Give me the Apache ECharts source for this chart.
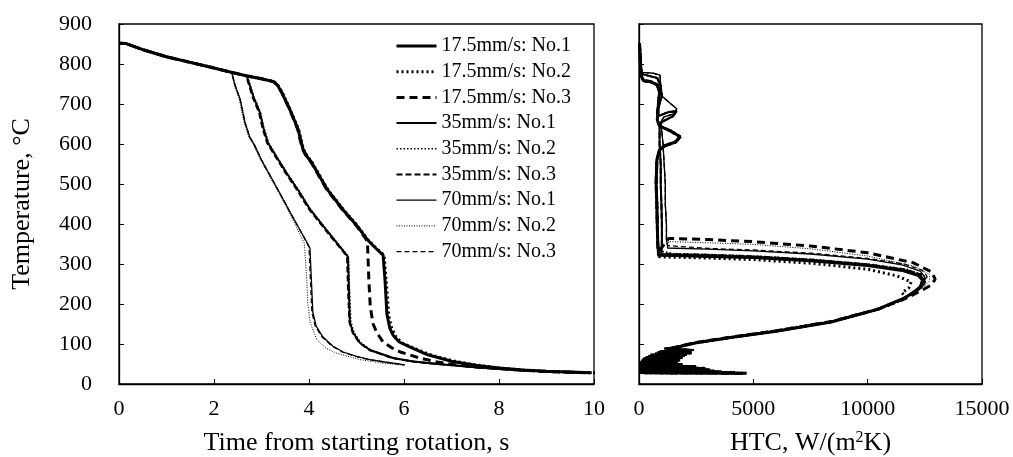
<!DOCTYPE html>
<html>
<head>
<meta charset="utf-8">
<script src="https://cdn.jsdelivr.net/npm/echarts@6/dist/echarts.min.js"></script>
<style>
  html, body { margin: 0; padding: 0; background: #fff; overflow: hidden; }
  #chart { width: 1013px; height: 457px; }
</style>
</head>
<body>
<div id="chart"></div>
<script>
// ---- data: cooling curves, [time s, temperature C] ----
const headCurve = [[0, 852], [0.15, 851], [0.5, 836], [1.0, 818], [1.5, 804], [2.0, 790], [2.37, 779]];

const t175No1 = [[2.7, 770], [3.0, 763], [3.25, 756], [3.33, 748], [3.43, 728], [3.6, 685], [3.77, 637], [3.87, 588],
  [3.95, 570], [4.05, 555], [4.38, 487], [4.72, 435], [5.0, 397], [5.22, 362], [5.4, 340], [5.56, 322], [5.6, 260],
  [5.64, 175], [5.7, 140], [5.77, 122], [5.9, 105], [6.13, 92], [6.5, 73], [7.0, 57], [7.5, 47], [8.0, 40], [8.5, 35],
  [9.0, 32], [9.5, 30], [9.95, 28]];
const t175No2 = [[2.7, 770], [3.0, 763], [3.26, 756], [3.34, 748], [3.44, 728], [3.61, 685], [3.78, 637], [3.88, 588],
  [3.96, 570], [4.06, 555], [4.39, 487], [4.73, 435], [5.01, 397], [5.23, 362], [5.41, 340], [5.58, 322], [5.63, 250],
  [5.68, 170], [5.74, 140], [5.82, 120], [5.95, 103], [6.2, 90], [6.6, 71], [7.1, 56], [7.6, 46], [8.1, 39], [8.6, 34],
  [9.1, 31], [9.6, 29], [10.05, 28]];
const t175No3 = [[2.7, 770], [3.0, 763], [3.25, 756], [3.33, 748], [3.43, 728], [3.6, 685], [3.76, 637], [3.86, 588],
  [3.94, 570], [4.04, 555], [4.37, 487], [4.71, 435], [4.99, 397], [5.2, 362], [5.23, 356], [5.26, 260], [5.29, 193],
  [5.35, 150], [5.43, 128], [5.56, 105], [5.75, 90], [5.92, 80], [6.3, 66], [6.7, 55], [7.2, 46], [8.0, 38], [9.0, 31],
  [9.9, 28]];

const t35No1 = [[2.69, 770], [2.83, 718], [2.97, 678], [3.04, 640], [3.14, 602], [3.53, 527], [3.78, 483], [4.02, 437],
  [4.4, 380], [4.76, 327], [4.82, 318], [4.84, 240], [4.86, 155], [4.93, 128], [5.07, 103], [5.28, 85], [5.77, 65],
  [6.2, 56], [6.7, 50], [7.5, 42], [8.5, 34], [9.5, 29], [9.9, 28]];
const t35No2 = [[2.7, 770], [2.84, 718], [2.98, 678], [3.05, 640], [3.15, 602], [3.54, 527], [3.79, 483], [4.03, 437],
  [4.41, 380], [4.77, 327], [4.83, 318], [4.85, 240], [4.88, 155], [4.95, 128], [5.09, 103], [5.3, 85], [5.8, 64],
  [6.25, 55], [6.8, 49], [7.6, 41], [8.6, 33], [9.6, 29], [9.95, 28]];
const t35No3 = [[2.68, 770], [2.81, 718], [2.95, 678], [3.02, 640], [3.12, 602], [3.51, 527], [3.76, 483], [4.0, 437],
  [4.38, 380], [4.74, 328], [4.8, 320], [4.82, 240], [4.85, 155], [4.92, 128], [5.06, 103], [5.27, 85], [5.75, 65],
  [6.2, 56], [6.7, 50], [7.5, 42], [8.5, 34], [9.5, 29], [9.85, 28]];

const t70No1 = [[2.45, 745], [2.55, 712], [2.65, 655], [2.75, 618], [2.85, 598], [3.0, 560], [3.35, 485], [3.6, 430],
  [3.92, 362], [4.02, 340], [4.05, 260], [4.08, 180], [4.15, 145], [4.29, 118], [4.5, 95], [4.72, 80], [5.0, 69],
  [5.28, 61], [5.6, 55], [6.02, 48]];
const t70No2 = [[2.43, 745], [2.53, 712], [2.63, 655], [2.73, 618], [2.83, 598], [2.98, 560], [3.33, 485], [3.58, 430],
  [3.9, 352], [3.93, 347], [3.95, 270], [3.97, 210], [4.02, 155], [4.16, 112], [4.35, 90], [4.58, 77], [5.07, 61],
  [5.5, 53], [5.98, 47]];
const t70No3 = [[2.45, 745], [2.55, 712], [2.65, 655], [2.75, 618], [2.85, 598], [3.0, 560], [3.35, 485], [3.6, 430],
  [3.91, 363], [4.0, 342], [4.03, 260], [4.06, 180], [4.13, 145], [4.27, 118], [4.48, 95], [4.7, 80], [4.98, 69],
  [5.26, 61], [5.58, 55], [6.0, 48]];

// ---- data: HTC curves, [HTC W/(m2K), temperature C] ----
const topHtc70 = [[30, 852], [60, 820], [90, 790], [120, 779], [600, 777], [920, 772], [950, 745], [1000, 720],
  [1400, 700], [1650, 688], [1550, 676], [1100, 668], [950, 655], [1000, 630], [1050, 600], [1100, 550], [1150, 500],
  [1150, 450], [1200, 400], [1200, 360], [1250, 346]];
const topHtc35 = [[30, 852], [60, 820], [90, 790], [110, 775], [400, 771], [800, 765], [950, 745], [1000, 720],
  [900, 700], [800, 686], [850, 670], [1300, 680], [1650, 682], [1500, 670], [1000, 655], [900, 640], [900, 600],
  [950, 550], [950, 500], [980, 450], [1000, 400], [1000, 350], [980, 332]];
const topHtc175 = [[20, 852], [50, 820], [80, 790], [100, 770], [200, 758], [500, 756], [800, 748], [900, 730],
  [850, 700], [800, 660], [900, 645], [1400, 632], [1800, 618], [1600, 605], [1100, 595], [900, 585], [780, 560],
  [750, 500], [780, 450], [800, 400], [820, 350], [850, 330]];

const h175No1 = [[850, 322], [1500, 321], [3000, 319], [5000, 316], [7500, 308], [10000, 296], [11500, 284],
  [12200, 272], [12400, 260], [12300, 242], [12000, 228], [11500, 212], [10400, 186], [8400, 155], [6000, 132],
  [4000, 116], [2500, 103], [1500, 90]];
const h175No2 = [[880, 318], [1500, 317], [3000, 315], [5000, 311], [7500, 302], [10000, 287], [11300, 270],
  [11900, 255], [11800, 240], [11500, 228], [11700, 215], [10500, 188], [8500, 157], [6100, 134], [4100, 117],
  [2600, 104], [1500, 91]];
const h175No3 = [[1300, 364], [3000, 361], [5000, 356], [7500, 345], [10000, 328], [12000, 303], [12800, 280],
  [12950, 262], [12800, 248], [12400, 235], [11700, 215], [10500, 188], [8400, 156], [6000, 133], [4000, 117],
  [2500, 104], [1500, 91]];
const h35No1 = [[980, 325], [1500, 324], [3000, 322], [5000, 318], [7500, 310], [10000, 298], [11600, 285],
  [12300, 272], [12450, 261], [12350, 244], [12050, 229], [11500, 212], [10400, 186], [8400, 155], [6000, 132],
  [4000, 116], [2500, 103], [1500, 90]];
const h35No2 = [[980, 327], [1500, 326], [3000, 324], [5000, 320], [7500, 312], [10000, 300], [11700, 287],
  [12400, 274], [12550, 262], [12450, 246], [12100, 230], [11500, 213], [10400, 187], [8400, 156], [6000, 133],
  [4000, 117], [2500, 104], [1500, 91]];
const h35No3 = [[980, 326], [1500, 325], [3000, 323], [5000, 319], [7500, 311], [10000, 299], [11650, 286],
  [12350, 273], [12500, 262], [12400, 245], [12100, 230], [11500, 212], [10400, 186], [8400, 155], [6000, 132],
  [4000, 116], [2500, 103], [1500, 90]];
const h70No1 = [[1250, 340], [3000, 337], [5000, 333], [7500, 325], [10000, 312], [11500, 298], [12300, 282],
  [12500, 268], [12400, 250], [12100, 236], [11600, 216], [10400, 187], [8400, 156], [6000, 133], [4000, 117],
  [2500, 104], [1500, 91]];
const h70No2 = [[1300, 356], [3000, 353], [5000, 349], [7500, 338], [10000, 320], [12000, 295], [12700, 274],
  [12700, 257], [12400, 240], [11800, 220], [10500, 189], [8400, 156], [6000, 133], [4000, 117], [2500, 104],
  [1500, 91]];
const h70No3 = [[1250, 342], [3000, 339], [5000, 335], [7500, 327], [10000, 314], [11600, 300], [12400, 284],
  [12600, 269], [12500, 252], [12200, 237], [11600, 216], [10400, 187], [8400, 156], [6000, 133], [4000, 117],
  [2500, 104], [1500, 91]];

const tailHtc175 = [[1300, 88], [2100, 84], [1000, 81], [2300, 78], [800, 75], [2000, 72], [500, 69], [1900, 66],
  [300, 63], [1800, 60], [150, 57], [1700, 54], [80, 51], [1900, 48], [50, 45], [2500, 43], [80, 41], [2900, 39],
  [40, 37], [3100, 35], [60, 33], [3300, 32], [100, 31], [3600, 30], [50, 29], [4200, 28], [200, 28], [4700, 27]];
const tailHtc35 = [[1100, 89], [2400, 85], [900, 82], [2200, 79], [700, 76], [2100, 73], [400, 70], [1800, 67],
  [200, 64], [1700, 61], [100, 58], [1600, 55], [40, 52], [1800, 49], [20, 46], [2300, 44], [60, 42], [2700, 40],
  [30, 38], [2900, 36], [50, 34], [3000, 32], [80, 31], [3200, 30], [20, 29], [3400, 28]];
const tailHtc70 = [[1200, 88], [2200, 84], [800, 80], [2000, 77], [500, 74], [1800, 71], [300, 68], [1700, 65],
  [150, 62], [1600, 59], [60, 56], [1500, 53], [30, 51], [1700, 49], [0, 48]];

const seriesNames = ['17.5mm/s: No.1', '17.5mm/s: No.2', '17.5mm/s: No.3',
  '35mm/s: No.1', '35mm/s: No.2', '35mm/s: No.3',
  '70mm/s: No.1', '70mm/s: No.2', '70mm/s: No.3'];

const xTimeTicks = [0, 10, 2];
const xHtcTicks = [0, 15000, 5000];
const yTempTicks = [0, 900, 100];

// ---- styling ----
const FONT = '"Liberation Serif", "Times New Roman", serif';
const lineStyles = [
  { width: 3, type: 'solid' }, { width: 3, type: [2, 3] }, { width: 3, type: [8, 5] },
  { width: 2, type: 'solid' }, { width: 1.6, type: [1.5, 2] }, { width: 2, type: [6, 3] },
  { width: 1.3, type: 'solid' }, { width: 1, type: [1, 1.5] }, { width: 1.3, type: [5, 3] },
];

const tempCurves = [t175No1, t175No2, t175No3, t35No1, t35No2, t35No3, t70No1, t70No2, t70No3]
  .map((c) => headCurve.concat(c));
const htcCurves = [
  topHtc175.concat(h175No1, tailHtc175), topHtc175.concat(h175No2, tailHtc175), topHtc175.concat(h175No3, tailHtc175),
  topHtc35.concat(h35No1, tailHtc35), topHtc35.concat(h35No2, tailHtc35), topHtc35.concat(h35No3, tailHtc35),
  topHtc70.concat(h70No1, tailHtc70), topHtc70.concat(h70No2, tailHtc70), topHtc70.concat(h70No3, tailHtc70),
];

const makeSeries = (curves, axisIdx) =>
  curves.map((data, i) => ({
    name: seriesNames[i],
    type: 'line',
    xAxisIndex: axisIdx,
    yAxisIndex: axisIdx,
    data,
    symbol: 'none',
    showSymbol: false,
    smooth: false,
    silent: true,
    lineStyle: { color: '#000', width: lineStyles[i].width, type: lineStyles[i].type },
    itemStyle: { color: '#000' },
  }));

const axisCommon = {
  axisLine: { show: true, onZero: false, lineStyle: { color: '#000', width: 1.3 } },
  axisTick: { show: true, inside: true, length: 5, lineStyle: { color: '#000', width: 1 } },
  splitLine: { show: false },
  nameTextStyle: { color: '#000', fontFamily: FONT, fontSize: 26 },
};
const labelStyle = { color: '#000', fontFamily: FONT, fontSize: 22, formatter: (v) => String(v) };

// keep the plot boxes fixed; the bottom title may run past the edge as in the original
const gridCommon = {
  top: 24, bottom: 73, show: true, borderColor: '#000', borderWidth: 1.3,
  containLabel: false, outerBoundsMode: 'none',
};

const option = {
  animation: false,
  backgroundColor: '#fff',
  grid: [
    Object.assign({ left: 119, right: 419 }, gridCommon),
    Object.assign({ left: 639, right: 31 }, gridCommon),
  ],
  legend: {
    data: seriesNames,
    orient: 'vertical',
    left: 390,
    top: 31,
    itemWidth: 40,
    itemHeight: 14,
    itemGap: 5.7,
    selectedMode: false,
    itemStyle: { opacity: 0 },
    lineStyle: { width: 'inherit' },
    textStyle: { color: '#000', fontFamily: FONT, fontSize: 20 },
  },
  xAxis: [
    Object.assign({}, axisCommon, {
      type: 'value', gridIndex: 0, min: xTimeTicks[0], max: xTimeTicks[1], interval: xTimeTicks[2],
      axisLabel: Object.assign({ margin: 14 }, labelStyle),
      name: 'Time from starting rotation, s', nameLocation: 'middle', nameGap: 46,
    }),
    Object.assign({}, axisCommon, {
      type: 'value', gridIndex: 1, min: xHtcTicks[0], max: xHtcTicks[1], interval: xHtcTicks[2],
      axisLabel: Object.assign({ margin: 14 }, labelStyle),
      name: 'HTC, W/(m{sup|2}K)', nameLocation: 'middle', nameGap: 46,
      nameTextStyle: {
        color: '#000', fontFamily: FONT, fontSize: 26,
        rich: { sup: { color: '#000', fontFamily: FONT, fontSize: 16, verticalAlign: 'top', lineHeight: 16 } },
      },
    }),
  ],
  yAxis: [
    Object.assign({}, axisCommon, {
      type: 'value', gridIndex: 0, min: yTempTicks[0], max: yTempTicks[1], interval: yTempTicks[2],
      axisLabel: Object.assign({ margin: 27 }, labelStyle),
      name: 'Temperature, \u00B0C', nameLocation: 'middle', nameGap: 84,
    }),
    Object.assign({}, axisCommon, {
      type: 'value', gridIndex: 1, min: yTempTicks[0], max: yTempTicks[1], interval: yTempTicks[2],
      axisLabel: { show: false },
    }),
  ],
  series: makeSeries(tempCurves, 0).concat(makeSeries(htcCurves, 1)),
};

const myChart = echarts.init(document.getElementById('chart'));
myChart.setOption(option);
</script>
</body>
</html>
